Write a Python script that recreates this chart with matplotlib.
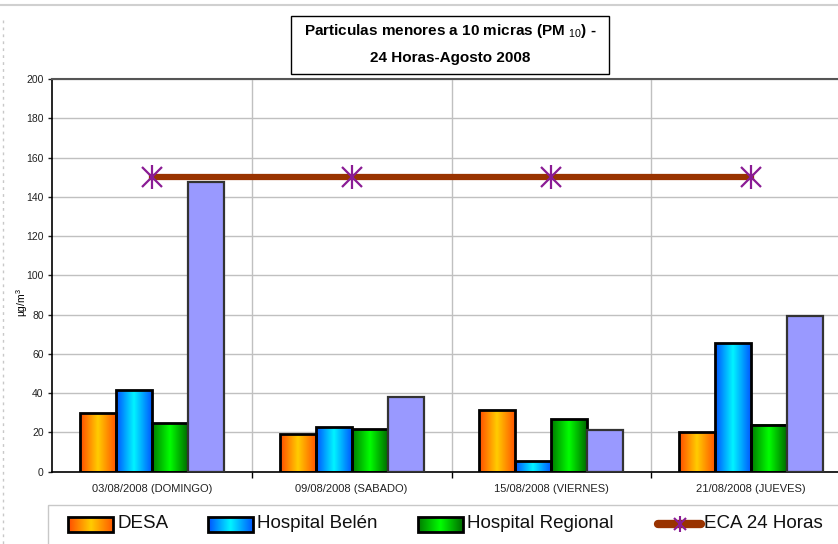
import numpy as np
import matplotlib
matplotlib.use("Agg")
import matplotlib.pyplot as plt
from matplotlib.colors import LinearSegmentedColormap
from matplotlib.patches import Rectangle

plt.rcParams['font.family'] = ['Liberation Sans', 'DejaVu Sans']
plt.rcParams['mathtext.fontset'] = 'custom'
plt.rcParams['mathtext.rm'] = 'Liberation Sans'
plt.rcParams['mathtext.it'] = 'Liberation Sans'
plt.rcParams['mathtext.bf'] = 'Liberation Sans:bold'

# datos
fechas = ["03/08/2008 (DOMINGO)", "09/08/2008 (SABADO)", "15/08/2008 (VIERNES)", "21/08/2008 (JUEVES)"]
desa = [30, 19, 31.5, 20]
belen = [41.5, 22.8, 5.3, 65.5]
regional = [24.8, 21.5, 26.7, 24]
otra = [147.5, 37.8, 21, 79.3]
eca = [150, 150, 150, 150]
series_leyenda = ["DESA", "Hospital Belén", "Hospital Regional", "ECA 24 Horas"]

cmap_desa = LinearSegmentedColormap.from_list("desa", ["#ff4a00", "#ffcc00", "#ff5500"])
cmap_belen = LinearSegmentedColormap.from_list("belen", ["#0050ff", "#00f4ff", "#0058ff"])
cmap_reg = LinearSegmentedColormap.from_list("reg", ["#007a00", "#00ff00", "#006a00"])
c_eca = '#993300'
c_star = '#8a1b94'

W, H = 838, 544
fig = plt.figure(figsize=(W/100, H/100), dpi=100)
ax = fig.add_axes([52/W, (H-471.7)/H, (851-52)/W, (471.7-79)/H])

x = np.arange(len(fechas))
w = 0.18
grad = np.linspace(0, 1, 256).reshape(1, -1)


def barra_grad(axe, x0, y0, ancho, alto, cmap, lw=2):
    axe.imshow(grad, cmap=cmap, extent=[x0, x0 + ancho, y0, y0 + alto], aspect='auto',
               zorder=2, interpolation='bilinear')
    axe.add_patch(Rectangle((x0, y0), ancho, alto, fill=False, edgecolor='black', lw=lw, zorder=3))


for i in range(len(fechas)):
    barra_grad(ax, x[i] - 2*w, 0, w, desa[i], cmap_desa)
    barra_grad(ax, x[i] - w, 0, w, belen[i], cmap_belen)
    barra_grad(ax, x[i], 0, w, regional[i], cmap_reg)
ax.bar(x + 1.5*w, otra, w, color='#9999ff', edgecolor='#333333', lw=1.6, zorder=3)

ax.plot(x, eca, color=c_eca, lw=4.5, zorder=4)
ax.plot(x, eca, ls='none', marker='x', ms=15, mew=1.6, color=c_star, zorder=5)
ax.plot(x, eca, ls='none', marker='|', ms=17, mew=1.6, color=c_star, zorder=5)

ax.set_xlim(-0.5, 3.5)
ax.set_ylim(0, 200)
ax.set_yticks(range(0, 201, 20))
ax.tick_params(axis='y', labelsize=7.5, length=3, width=1, colors='#222222', pad=3)
ax.set_xticks(x)
ax.set_xticklabels(fechas, fontsize=8, color='#222222')
ax.tick_params(axis='x', length=0, pad=9)
ax.set_xticks([0.5, 1.5, 2.5], minor=True)
ax.tick_params(axis='x', which='minor', length=4, width=1)
ax.grid(axis='y', color='#c0c0c0', lw=1, zorder=0)
ax.grid(axis='x', which='minor', color='#c0c0c0', lw=1, zorder=0)
ax.set_axisbelow(True)
ax.spines['right'].set_visible(False)
ax.spines['top'].set_color('#555555')
ax.spines['top'].set_linewidth(1.5)
ax.spines['left'].set_linewidth(1.2)
ax.spines['bottom'].set_linewidth(1.2)
ax.set_ylabel(r"µg/m$^3$", fontsize=7.5)
ax.yaxis.set_label_coords(-0.027, 0.43)

# capa en pixeles para titulo, leyenda y bordes de pagina
ov = fig.add_axes([0, 0, 1, 1], zorder=10)
ov.set_xlim(0, W)
ov.set_ylim(H, 0)
ov.axis('off')
ov.patch.set_alpha(0)

ov.plot([0, W], [5, 5], color='#d0d0d0', lw=1.5)
ov.plot([3, 3], [20, H], color='#c8c8c8', lw=1, ls=(0, (2, 3)))

# titulo en recuadro
ov.add_patch(Rectangle((291, 16), 318, 58, fill=False, edgecolor='black', lw=1))
ov.text(450, 31, "Particulas menores a 10 micras (PM $_{10}$) -", ha='center', va='center',
        fontsize=11, fontweight='bold')
ov.text(450, 58, "24 Horas-Agosto 2008", ha='center', va='center', fontsize=11, fontweight='bold')

# leyenda
ov.add_patch(Rectangle((48, 505), 800, 40, fill=False, edgecolor='#c8c8c8', lw=1))
pos_handle = [68, 208, 418, 655]
cmaps = [cmap_desa, cmap_belen, cmap_reg]
for k, nombre in enumerate(series_leyenda):
    x0 = pos_handle[k]
    if k < 3:
        barra_grad(ov, x0, 517, 45, 15, cmaps[k], lw=2)
    else:
        ov.plot([x0 + 3, x0 + 46], [524, 524], color=c_eca, lw=6, solid_capstyle='round')
        ov.plot([x0 + 24.5], [524], marker='x', ms=9, mew=1.5, color=c_star)
        ov.plot([x0 + 24.5], [524], marker='|', ms=12, mew=1.5, color=c_star)
    ov.text(x0 + 49, 523, nombre, ha='left', va='center', fontsize=13.5, color='#111111')
ov.set_xlim(0, W)
ov.set_ylim(H, 0)

plt.savefig("out.png", dpi=100)
